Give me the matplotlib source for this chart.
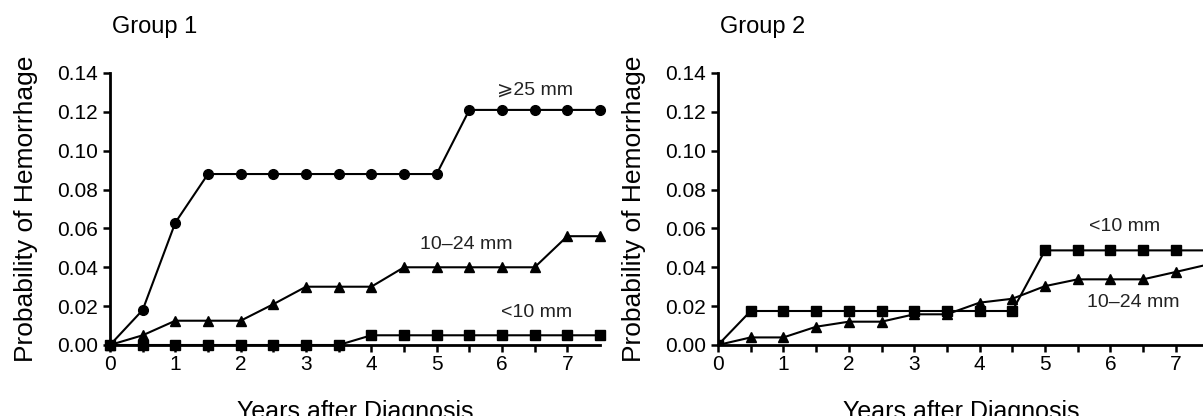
import matplotlib
matplotlib.use("Agg")
import matplotlib.pyplot as plt

plt.rcParams['font.family'] = ['Liberation Sans', 'DejaVu Sans']

# years after diagnosis (every half year)
years = [0, 0.5, 1, 1.5, 2, 2.5, 3, 3.5, 4, 4.5, 5, 5.5, 6, 6.5, 7, 7.5]

# Group 1
g1_ge25 = [0, 0.018, 0.063, 0.088, 0.088, 0.088, 0.088, 0.088, 0.088, 0.088, 0.088,
           0.121, 0.121, 0.121, 0.121, 0.121]
g1_10_24 = [0, 0.005, 0.0125, 0.0125, 0.0125, 0.021, 0.030, 0.030, 0.030, 0.040, 0.040,
            0.040, 0.040, 0.040, 0.056, 0.056]
g1_lt10 = [0, 0, 0, 0, 0, 0, 0, 0, 0.005, 0.005, 0.005, 0.005, 0.005, 0.005, 0.005, 0.005]

# Group 2
g2_lt10 = [0, 0.0175, 0.0175, 0.0175, 0.0175, 0.0175, 0.0175, 0.0175, 0.0175, 0.0175,
           0.0487, 0.0487, 0.0487, 0.0487, 0.0487, 0.0487]
g2_10_24 = [0, 0.0039, 0.0039, 0.0094, 0.012, 0.012, 0.0158, 0.0158, 0.0218, 0.0238,
            0.0303, 0.0338, 0.0338, 0.0338, 0.0376, 0.0415]

W, H = 1203, 416
fig = plt.figure(figsize=(W / 100, H / 100), dpi=100)

ax1 = fig.add_axes([110 / W, 1 - 345 / H, 490 / W, 272 / H])
ax2 = fig.add_axes([718 / W, 1 - 345 / H, 486 / W, 272 / H])

lw = 1.5
ax1.plot(years, g1_ge25, color='black', lw=lw, marker='o', ms=7, clip_on=False, zorder=3)
ax1.plot(years, g1_10_24, color='black', lw=lw, marker='^', ms=7.5, clip_on=False, zorder=3)
ax1.plot(years, g1_lt10, color='black', lw=lw, marker='s', ms=7.5, clip_on=False, zorder=3)

ax2.plot(years, g2_lt10, color='black', lw=lw, marker='s', ms=7.5, zorder=3)
ax2.plot(years, g2_10_24, color='black', lw=lw, marker='^', ms=7.5, zorder=3)

txt = '#222222'
ax1.text(6.5, 0.131, '⩾25 mm', fontsize=14, color=txt, ha='center', va='center')
ax1.text(5.46, 0.0515, '10–24 mm', fontsize=14, color=txt, ha='center', va='center')
ax1.text(6.53, 0.0165, '<10 mm', fontsize=14, color=txt, ha='center', va='center')
ax2.text(6.22, 0.0608, '<10 mm', fontsize=14, color=txt, ha='center', va='center')
ax2.text(6.35, 0.0221, '10–24 mm', fontsize=14, color=txt, ha='center', va='center')

for ax, title, xmax in [(ax1, 'Group 1', 7.5), (ax2, 'Group 2', 486 / 65.4)]:
    ax.set_xlim(0, xmax)
    ax.set_ylim(0, 0.14)
    ax.set_xticks(range(0, 8))
    ax.set_xticks([i + 0.5 for i in range(0, 8) if i + 0.5 < xmax], minor=True)
    ax.set_yticks([0, 0.02, 0.04, 0.06, 0.08, 0.10, 0.12, 0.14])
    ax.set_yticklabels(['%.2f' % v for v in ax.get_yticks()])
    ax.spines['top'].set_visible(False)
    ax.spines['right'].set_visible(False)
    ax.spines['left'].set_linewidth(2)
    ax.spines['bottom'].set_linewidth(2)
    ax.tick_params(which='both', direction='out', length=5, width=1.8, labelsize=15)
    ax.tick_params(axis='x', which='major', pad=2)
    ax.set_xlabel('Years after Diagnosis', fontsize=18, labelpad=19)
    ax.set_ylabel('Probability of Hemorrhage', fontsize=19, labelpad=14)
    ax.set_title(title, loc='left', fontsize=17, pad=29, x=0.004)

fig.savefig('out.png', dpi=100)
